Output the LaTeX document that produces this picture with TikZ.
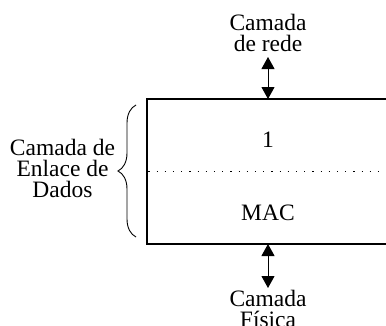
\documentclass[tikz,border=0pt]{standalone}
\usepackage{fontspec}
\setmainfont{Liberation Serif}
\usetikzlibrary{arrows.meta,decorations.pathreplacing}
\begin{document}
\begin{tikzpicture}[x=1pt,y=1pt,
  lbl/.style={font=\fontsize{23.5}{21}\selectfont, align=center, inner sep=0pt},
  dbl/.style={{Triangle[width=13pt,length=12pt]}-{Triangle[width=13pt,length=12pt]}, line width=1pt},
  layerbox/.style={draw, line width=1.4pt, minimum width=273pt, minimum height=145pt, inner sep=0pt}]
\useasboundingbox (0,0) rectangle (386,325);
\clip (0,0) rectangle (386,325);
\node[layerbox] (box) at (283.5,153.5) {};
\coordinate (btop) at (268,226);
\coordinate (bbot) at (268,81);
\coordinate (atop) at (268,268);
\coordinate (abot) at (268,37);
\node[lbl, anchor=base] (rede) at (268,273) {Camada\\de rede};
\node[lbl, anchor=base] (fis) at (268,-2) {Camada\\Física};
\draw[dbl] (atop) -- (btop);
\draw[dbl] (bbot) -- (abot);
\node[lbl, anchor=base] (one) at (268,178) {1};
\node[lbl, anchor=base] (mac) at (268,105) {MAC};
\coordinate (dl) at (box.west);
\coordinate (dr) at (box.east);
\draw[line width=1pt, dash pattern=on 1.2pt off 7pt] ([xshift=2pt]dl) -- (dr);
\coordinate (brb) at (136,88);
\coordinate (brt) at (136,220);
\draw[line width=0.9pt, decorate, decoration={brace, amplitude=18pt}] (brb) -- (brt);
\node[lbl, anchor=base] (enl) at (62.5,128) {Camada de\\Enlace de\\Dados};
\end{tikzpicture}
\end{document}
